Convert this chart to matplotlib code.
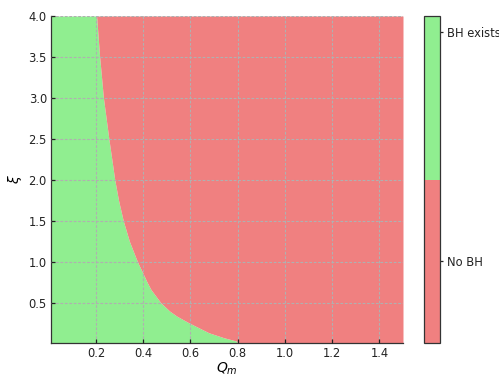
import numpy as np
import matplotlib
matplotlib.use("Agg")
import matplotlib.pyplot as plt
from matplotlib.colors import ListedColormap, Normalize
from matplotlib.cm import ScalarMappable

# Boundary of the "BH exists" region (xi, Qm)
xi_boundary = [0.01, 0.033, 0.074, 0.135, 0.257, 0.337, 0.4, 0.5, 0.663, 0.75, 0.825,
               1.0, 1.25, 1.5, 1.75, 2.0, 2.5, 3.0, 3.5, 4.0]
qm_boundary = [0.80, 0.796, 0.742, 0.678, 0.593, 0.543, 0.512, 0.475, 0.433, 0.417, 0.405,
               0.376, 0.342, 0.316, 0.296, 0.280, 0.255, 0.232, 0.216, 0.203]

qm_range = [0.01, 1.5]
xi_range = [0.01, 4.0]

xticks = [0.2, 0.4, 0.6, 0.8, 1.0, 1.2, 1.4]
yticks = [0.5, 1.0, 1.5, 2.0, 2.5, 3.0, 3.5, 4.0]
class_labels = ["No BH", "BH exists"]
class_tick_pos = [0.25, 0.95]

green = "#90EE90"
red = "#F08080"
fs = 8.3

fig = plt.figure(figsize=(4.99, 3.76), dpi=100)
ax = fig.add_axes([0.1022, 0.0878, 0.7054, 0.8696])
cax = fig.add_axes([0.8507, 0.0878, 0.032, 0.8696])

ax.fill_betweenx(xi_boundary, qm_range[0], qm_boundary, color=green, linewidth=0, zorder=1)
ax.fill_betweenx(xi_boundary, qm_boundary, qm_range[1], color=red, linewidth=0, zorder=1)

ax.set_xlim(qm_range)
ax.set_ylim(xi_range)
ax.set_xticks(xticks)
ax.set_yticks(yticks)
ax.set_xticklabels([f"{v:.1f}" for v in xticks])
ax.set_yticklabels([f"{v:.1f}" for v in yticks])
ax.tick_params(direction="in", length=3, width=0.9, colors="#222222", labelsize=fs, pad=3)
ax.grid(True, color="#b0b0b0", linestyle=(0, (2.5, 1.5)), linewidth=0.8, zorder=2)
ax.set_axisbelow(False)
for s in ["top", "right"]:
    ax.spines[s].set_visible(False)
for s in ["left", "bottom"]:
    ax.spines[s].set_color("#333333")
    ax.spines[s].set_linewidth(0.9)
ax.set_xlabel(r"$Q_m$", fontsize=10, labelpad=0)
ax.set_ylabel(r"$\xi$", fontsize=10, labelpad=3)

cmap = ListedColormap([red, green])
norm = Normalize(vmin=0.0, vmax=1.0)
sm = ScalarMappable(norm=norm, cmap=cmap)
cb = fig.colorbar(sm, cax=cax, ticks=class_tick_pos)
cb.ax.set_yticklabels(class_labels)
cb.ax.minorticks_off()
cb.ax.tick_params(labelsize=fs, length=2.5, width=0.9, colors="#222222", pad=2)
cb.outline.set_edgecolor("#333333")
cb.outline.set_linewidth(0.9)

fig.savefig("out.png", dpi=100)
